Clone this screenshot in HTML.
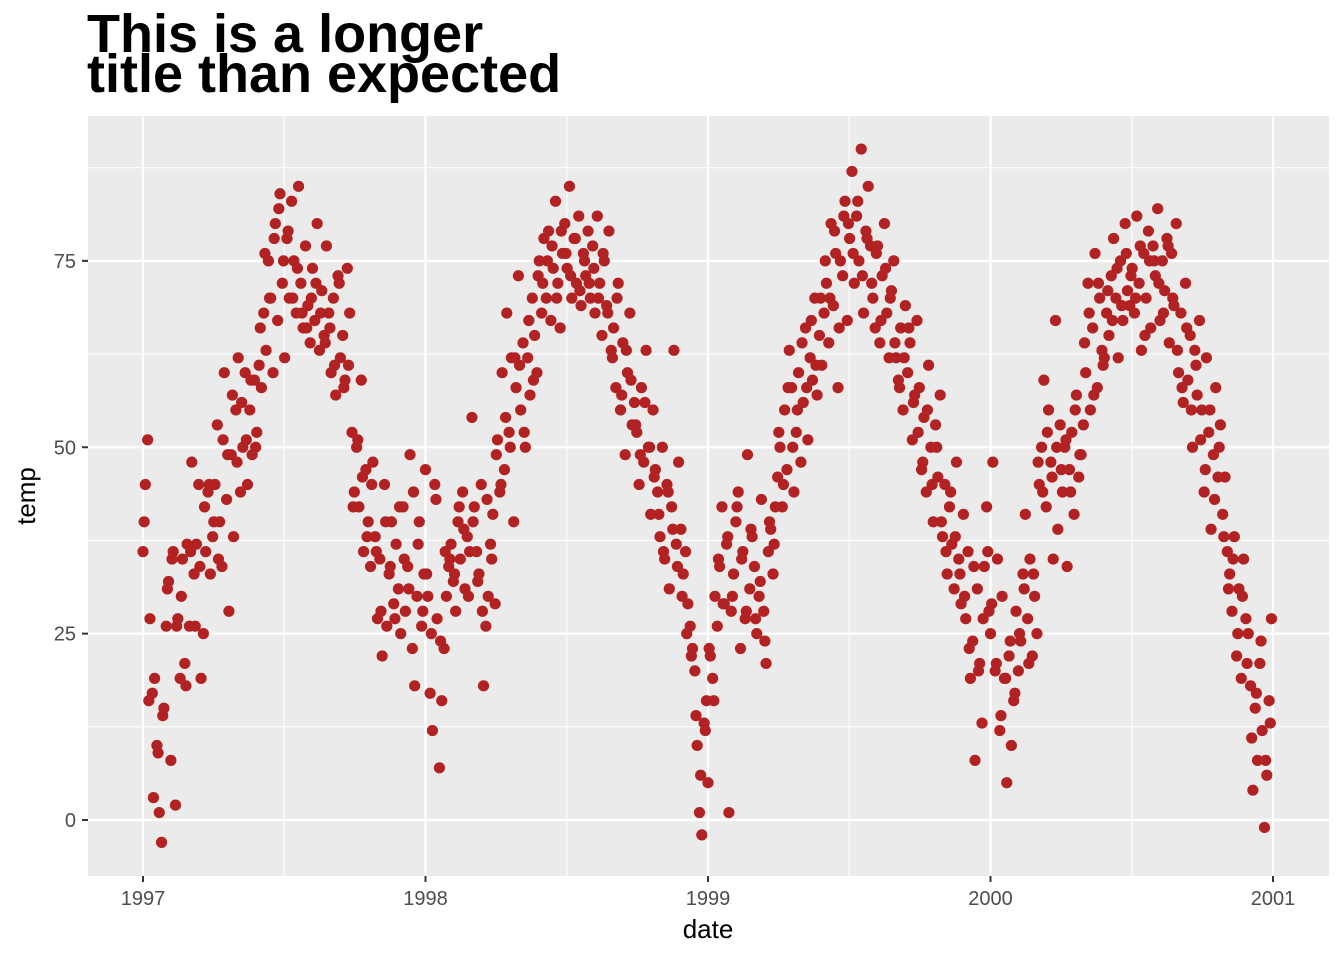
<!DOCTYPE html>
<html><head><meta charset="utf-8"><style>
body{margin:0;background:#fff;}
svg{display:block;font-family:"Liberation Sans",sans-serif;}
</style></head><body>
<svg id="chart" width="1344" height="960">
<text x="87" y="52" font-size="54" font-weight="bold" fill="#000">This is a longer</text>
<text x="87" y="92" font-size="54" font-weight="bold" fill="#000">title than expected</text>
<rect x="88" y="116" width="1241" height="760" fill="#EBEBEB"/>
<g id="grid"></g>
<g id="pts"></g>
<g id="axes"></g>
<text x="708" y="938" font-size="26" text-anchor="middle" fill="#000">date</text>
<text transform="translate(35,496) rotate(-90)" font-size="26" text-anchor="middle" fill="#000">temp</text>
</svg>
<script>
const xTicks=[1997,1998,1999,2000,2001];
const yTicks=[0,25,50,75];
const t1997=[36,45,51,27,17,19,10,1,-3,15,26,32,8,36,2,27,19,35,21,37,26,48,33,37,45,19,25,36,44,33,38,45,53,40,34,60,43,28,49,38,55,62,44,50,60,45,55,49,59,52,61,58,68,63,75,70,60,80,67,84,72,62,78,70,83,75,68,85,72,66,77,69,64,74,67,80,63,71,65,77,68,60,70,57,73,62,65,59,74,68,52,44,50,42,59,36,47,40,34,48,38,27,35,22,45,26,33,40,29,37,31,25,42,28,34,49,23,18,30,40,26,33];
const t1998=[47,30,17,12,45,27,7,16,23,30,34,37,32,28,40,35,44,31,38,36,54,42,36,33,45,18,26,30,37,41,29,51,44,60,47,68,52,62,40,58,73,55,64,50,62,57,70,65,60,75,68,78,70,79,67,74,83,72,66,76,80,74,85,70,78,72,81,69,76,73,79,70,77,68,81,72,65,75,69,79,63,66,58,72,55,64,49,60,68,53,56,52,45,58,48,63,50,41,55,47,44,38,50,35,45,31,42,63,37,48,39,33,36,29,26,23,20,10,1,-2,13,16];
const t1999=[5,22,19,30,26,34,42,29,37,1,28,33,40,44,23,36,27,49,31,38,34,25,30,43,28,21,36,39,33,42,46,50,42,55,47,63,58,44,52,60,48,56,66,51,62,59,70,57,65,61,68,72,64,80,69,76,58,75,73,83,67,78,87,72,81,75,90,68,79,85,77,70,66,77,64,73,80,68,62,71,75,62,59,66,55,69,60,64,51,57,67,58,47,54,44,61,50,40,53,46,57,38,45,33,42,37,31,48,35,29,41,27,36,19,24,8,31,21,13,34,42,28];
const t2000=[25,48,20,35,12,30,19,5,22,10,16,28,20,24,33,41,27,35,22,30,25,45,50,59,42,55,48,35,67,39,53,44,50,34,47,52,41,57,46,49,53,60,72,55,66,76,58,70,63,62,68,65,73,78,70,62,75,67,80,71,69,74,68,81,72,63,76,70,79,66,77,73,82,67,75,71,78,64,76,69,80,60,68,56,72,59,65,50,63,57,67,55,44,62,52,39,49,58,46,53,41,46,36,33,28,38,22,31,19,35,27,25,18,4,15,8,21,12,-1,6,16,27];
const u1997=[40,16,3,9,14,31,35,26,30,18,36,26,34,42,45,40,35,51,49,57,48,56,51,59,50,66,76,70,78,82,75,79,70,74,68,66,70,72,68,64,66,61,72,58,61,42,51,46,38,45,36,28,40,34,27,42,35,31,44,37,28];
const u1998=[33,25,43,24,36,35,33,42,39,30,40,32,28,43,35,49,45,54,50,62,61,52,67,59,73,72,75,77,70,79,76,73,78,71,75,72,74,70,76,68,62,70,57,63,59,53,49,56,50,46,41,36,44,39,34,30,25,22,14,6,12];
const u1999=[23,16,35,29,38,30,42,35,28,39,27,32,24,40,37,52,45,58,50,55,64,58,67,61,70,75,70,79,66,81,80,76,83,73,78,72,76,67,74,70,64,58,62,66,56,52,48,55,45,50,40,36,44,38,33,30,23,34,20,27,36];
const u2000=[29,21,14,19,24,17,25,31,21,33,48,44,52,46,50,47,51,44,55,49,64,68,57,72,61,71,67,74,69,76,73,70,77,65,75,75,72,68,77,70,63,58,66,55,61,51,47,55,43,50,38,31,35,25,30,21,11,17,24,8,13];
const years=[1997,1998,1999,2000];
const series=[t1997,t1998,t1999,t2000];
const series2=[u1997,u1998,u1999,u2000];
const ns="http://www.w3.org/2000/svg";
const X=v=>143+(v-1997)*282.5;
const Y=v=>820-v*7.455;
const R=1329,T=116,B=876;
const grid=document.getElementById('grid'),axes=document.getElementById('axes'),pts=document.getElementById('pts');
function line(p,x1,y1,x2,y2,c,w,name){const l=document.createElementNS(ns,'line');l.setAttribute('x1',x1);l.setAttribute('y1',y1);l.setAttribute('x2',x2);l.setAttribute('y2',y2);l.setAttribute('stroke',c);l.setAttribute('stroke-width',w);


p.appendChild(l);}
for(let i=0;i<yTicks.length;i++){const y=Y(yTicks[i]);line(grid,88,y,R,y,'#fff',2.2,'y-gridline');const ym=Y(yTicks[i]+12.5);line(grid,88,ym,R,ym,'#fff',1.1,'y-minor-gridline');
line(axes,82,y,88,y,'#333',2,'y-tick');
const t=document.createElementNS(ns,'text');t.setAttribute('x',76);t.setAttribute('y',y+7);t.setAttribute('font-size',20);t.setAttribute('text-anchor','end');t.setAttribute('fill','#4D4D4D');t.textContent=yTicks[i];


axes.appendChild(t);}
for(let i=0;i<xTicks.length;i++){const x=X(xTicks[i]);line(grid,x,T,x,B,'#fff',2.2,'x-gridline');if(i<xTicks.length-1){const xm=X(xTicks[i]+0.5);line(grid,xm,T,xm,B,'#fff',1.1,'x-minor-gridline');}
line(axes,x,B,x,B+6,'#333',2,'x-tick');
const t=document.createElementNS(ns,'text');t.setAttribute('x',x);t.setAttribute('y',905);t.setAttribute('font-size',20);t.setAttribute('text-anchor','middle');t.setAttribute('fill','#4D4D4D');t.textContent=xTicks[i];


axes.appendChild(t);}
function dot(cx,cy){const c=document.createElementNS(ns,'circle');c.setAttribute('cx',cx);c.setAttribute('cy',cy);c.setAttribute('r',5.6);c.setAttribute('fill','#B22222');


pts.appendChild(c);}
series.forEach((arr,k)=>{arr.forEach((v,i)=>dot(X(years[k]+i*3/365),Y(v)));});
series2.forEach((arr,k)=>{arr.forEach((v,i)=>dot(X(years[k]+(i*6+1.5)/365),Y(v)));});
</script>
</body></html>
